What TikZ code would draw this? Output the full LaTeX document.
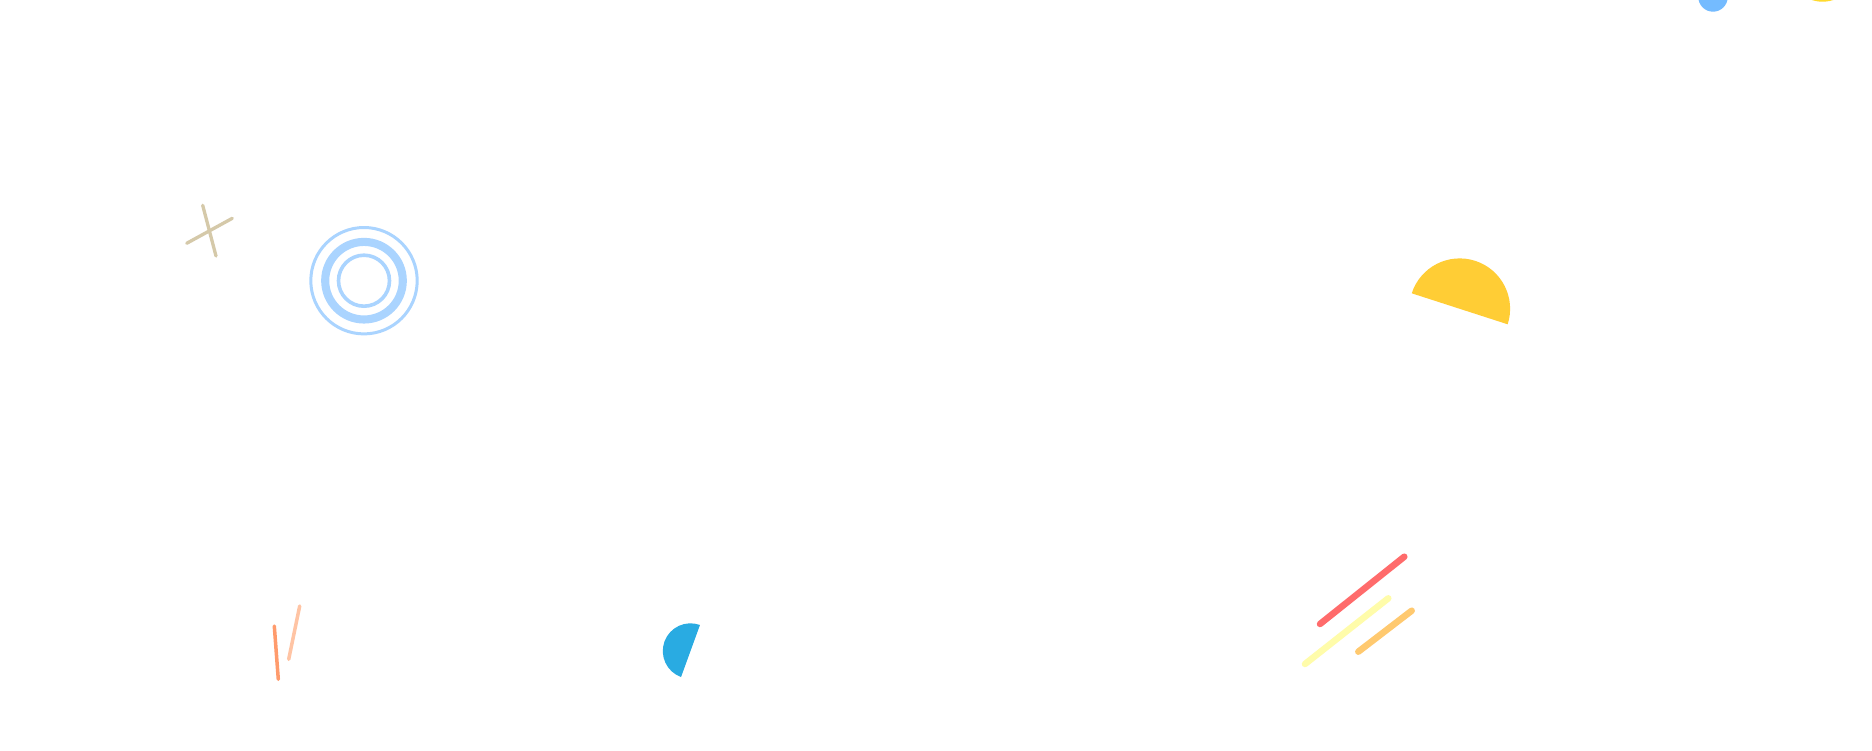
\documentclass[tikz,border=0pt]{standalone}
\usepackage{tikz}
\usepackage{xcolor}
\usetikzlibrary{backgrounds}
\definecolor{crosstan}{HTML}{D5C9A9}
\definecolor{ringblue}{HTML}{AAD4FF}
\definecolor{sunyellow}{HTML}{FFCD35}
\definecolor{dotblue}{HTML}{74BBFF}
\definecolor{dotyellow}{HTML}{FFDA2E}
\definecolor{halfblue}{HTML}{29ABE2}
\definecolor{stickred}{HTML}{FF6B6B}
\definecolor{stickyellow}{HTML}{FFFCAA}
\definecolor{stickorange}{HTML}{FFC96F}
\definecolor{twigdark}{HTML}{FF9B6C}
\definecolor{twiglight}{HTML}{FFC4A4}
\newcommand{\ringcx}{364}
\newcommand{\ringcy}{280.7}
\newcommand{\suncx}{1459.7}
\newcommand{\suncy}{308.8}
\newcommand{\sunr}{50.4}
\newcommand{\halfcx}{690.5}
\newcommand{\halfcy}{651}
\newcommand{\halfr}{27.7}

\begin{document}
\begin{tikzpicture}[x=1pt,y=-1pt,line cap=round,
    stick/.style={line width=6.5pt},
    twig/.style={line width=3.5pt}]
  \useasboundingbox (0,0) rectangle (1872,750);
  \clip (0,0) rectangle (1872,750);
  \fill[white] (0,0) rectangle (1872,750);

  % cross
  \draw[crosstan,line width=3.3pt] (202.7,205.3) -- (216,256);
  \draw[crosstan,line width=3.3pt] (186.7,243.3) -- (232.3,218.3);

  % rings
  \coordinate (ring) at (\ringcx,\ringcy);
  \draw[ringblue,line width=3pt] (ring) circle[radius=53.2];
  \draw[ringblue,line width=8.1pt] (ring) circle[radius=38.8];
  \draw[ringblue,line width=3.6pt] (ring) circle[radius=25.5];

  % half discs
  \fill[sunyellow] (\suncx,\suncy) ++(17.9:\sunr)
    arc[start angle=17.9,end angle=-162.1,radius=\sunr] -- cycle;
  \fill[halfblue] (\halfcx,\halfcy) ++(110:\halfr)
    arc[start angle=110,end angle=290,radius=\halfr] -- cycle;

  % dots at the top
  \fill[dotblue] (1713,-3) circle[radius=14.7];
  \fill[dotyellow] (1822.5,-33.3) circle[radius=35];

  % sticks
  \draw[stick,stickred] (1320,624) -- (1404.3,556.7);
  \draw[stick,stickyellow] (1305,664) -- (1388.3,598.3);
  \draw[stick,stickorange] (1358.3,651.7) -- (1411.7,610.7);

  % twigs
  \draw[twig,twigdark] (274.3,626) -- (278.3,679.3);
  \draw[twig,twiglight] (299.7,606) -- (288.7,659.3);
\end{tikzpicture}
\end{document}
